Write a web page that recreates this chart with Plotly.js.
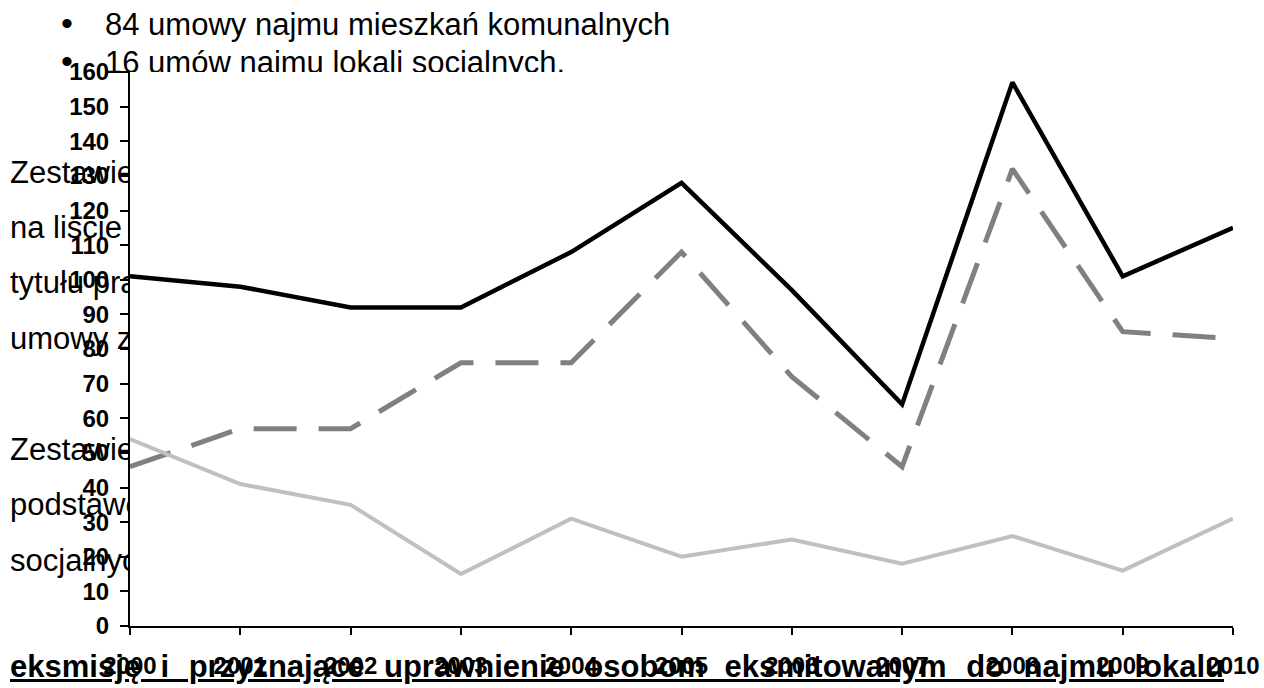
<!DOCTYPE html>
<html>
<head>
<meta charset="utf-8">
<script src="https://cdn.plot.ly/plotly-3.0.1.min.js"></script>
<style>
  html, body { margin: 0; padding: 0; background: #fff; width: 1264px; height: 688px; overflow: hidden; }
  #doc { position: absolute; left: 0; top: 0; width: 1264px; height: 688px; z-index: 0;
         font-family: "Liberation Sans", Arial, sans-serif; color: #000; }
  #doc div { position: absolute; white-space: nowrap; font-size: 31px; line-height: 31px; }
  #doc .bul { left: 61px; font-size: 34px; }
  #doc .b { left: 105px; }
  #doc .l { left: 10px; }
  #doc .bottom { left: 10px; width: 1214px; font-weight: bold; text-decoration: underline;
                 text-align: justify; text-align-last: justify; white-space: normal; }
  #chart { position: absolute; left: 0; top: 0; width: 1264px; height: 688px; z-index: 1; }
</style>
</head>
<body>
<div id="doc">
  <div class="bul" style="top:8px">•</div>
  <div class="b" style="top:9px">84 umowy najmu mieszkań komunalnych</div>
  <div class="bul" style="top:46px">•</div>
  <div class="b" style="top:47px">16 umów najmu lokali socjalnych.</div>
  <div class="l" style="top:157px">Zestawienie osób oczekujących na najem lokalu</div>
  <div class="l" style="top:212px">na liście mieszkaniowej oraz osób uprawnionych z</div>
  <div class="l" style="top:267px">tytułu prawomocnych wyroków, z którymi zawarto</div>
  <div class="l" style="top:323px">umowy z zasobu gminy w latach 2000–2010</div>
  <div class="l" style="top:434px">Zestawienie wyroków sądowych stanowiących</div>
  <div class="l" style="top:489px">podstawę do najmu lokali</div>
  <div class="l" style="top:545px">socjalnych w latach 2000–2010</div>
  <div class="bottom" style="top:651px">eksmisję i przyznające uprawnienie osobom eksmitowanym do najmu lokalu</div>
</div>
<div id="chart"></div>
<script>
const years = [2000, 2001, 2002, 2003, 2004, 2005, 2006, 2007, 2008, 2009, 2010];
const yearLabels = ["2000", "2001", "2002", "2003", "2004", "2005", "2006", "2007", "2008", "2009", "2010"];
const seriesTotal = [101, 98, 92, 92, 108, 128, 97, 64, 157, 101, 115];
const seriesDashed = [46, 57, 57, 76, 76, 108, 72, 46, 132, 85, 83];
const seriesLight = [54, 41, 35, 15, 31, 20, 25, 18, 26, 16, 31];
const yTicks = [0, 10, 20, 30, 40, 50, 60, 70, 80, 90, 100, 110, 120, 130, 140, 150, 160];

const traces = [
  { x: years, y: seriesTotal, type: 'scatter', mode: 'lines',
    line: { color: '#000000', width: 4.5 }, hoverinfo: 'skip' },
  { x: years, y: seriesDashed, type: 'scatter', mode: 'lines',
    line: { color: '#808080', width: 5, dash: '43px,22px' }, hoverinfo: 'skip' },
  { x: years, y: seriesLight, type: 'scatter', mode: 'lines',
    line: { color: '#c0c0c0', width: 4 }, hoverinfo: 'skip' }
];

const tickFont = { family: 'Liberation Sans, Arial, sans-serif', size: 24, color: '#000', weight: 'bold' };

const layout = {
  width: 1264, height: 688,
  margin: { l: 130, r: 31, t: 72, b: 62, pad: 0 },
  paper_bgcolor: 'rgba(0,0,0,0)',
  plot_bgcolor: '#ffffff',
  showlegend: false,
  xaxis: {
    range: [2000, 2010], tickvals: years, ticktext: yearLabels,
    showgrid: false, zeroline: false, showline: true, linecolor: '#000', linewidth: 2,
    ticks: 'outside', ticklen: 7, tickwidth: 2, tickcolor: '#000',
    ticklabelstandoff: 10, tickfont: tickFont
  },
  yaxis: {
    range: [0, 160], tickvals: yTicks,
    showgrid: false, zeroline: false, showline: true, linecolor: '#000', linewidth: 2,
    ticks: 'outside', ticklen: 8, tickwidth: 2, tickcolor: '#000',
    ticklabelstandoff: 6, tickfont: tickFont
  }
};

Plotly.newPlot('chart', traces, layout, { displayModeBar: false, staticPlot: true });
</script>
</body>
</html>
